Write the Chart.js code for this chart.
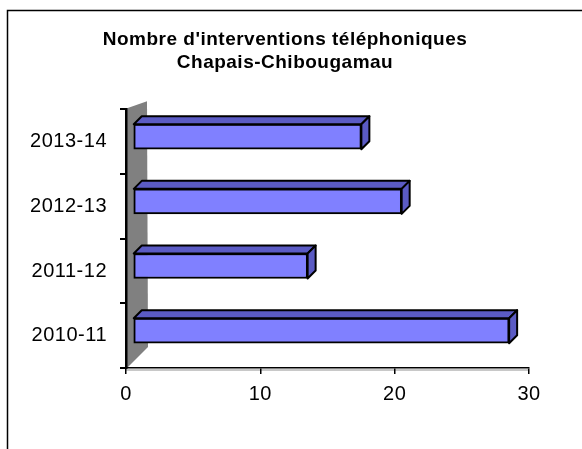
<!DOCTYPE html>
<html>
<head>
<meta charset="utf-8">
<script src="https://cdn.jsdelivr.net/npm/chart.js@4.4.1/dist/chart.umd.min.js"></script>
<style>
    html, body { margin: 0; padding: 0; background: #fff; }
</style>
</head>
<body>
<canvas id="interventions" width="582" height="449"></canvas>
<script>
var saisons = ["2013-14", "2012-13", "2011-12", "2010-11"];
var interventions = [17, 20, 13, 28];
var ticksX = [0, 10, 20, 30];
var titre = ["Nombre d'interventions téléphoniques", "Chapais-Chibougamau"];

var depth = 8;      // profondeur des barres 3D
var shift = [7, -5]; // decalage de la face avant

var decor = {
    id: 'decor',
    beforeLayout: function (chart) { chart.ctx.letterSpacing = '0.5px'; },
    afterLayout: function (chart) {
        // recentrer le titre comme dans Excel
        chart.titleBlock.left = 41;
        chart.titleBlock.right = 529;
    },
    beforeDraw: function (chart) {
        var ctx = chart.ctx;
        var a = chart.chartArea;
        ctx.letterSpacing = '0.5px';
        // cadre exterieur
        ctx.save();
        ctx.strokeStyle = '#000';
        ctx.lineWidth = 1.5;
        ctx.strokeRect(7.5, 10.5, 700, 600);
        // mur gris a gauche
        ctx.fillStyle = '#808080';
        ctx.beginPath();
        ctx.moveTo(a.left + 1, a.top - 1);
        ctx.lineTo(a.left + 21, a.top - 8);
        ctx.lineTo(a.left + 22, a.bottom - 21);
        ctx.lineTo(a.left + 1, a.bottom);
        ctx.closePath();
        ctx.fill();
        // sol clair
        ctx.strokeStyle = '#c8c8c8';
        ctx.lineWidth = 2;
        ctx.beginPath();
        ctx.moveTo(a.left, a.bottom + 2);
        ctx.lineTo(a.right, a.bottom + 2);
        ctx.stroke();
        ctx.restore();
    }
};

var bars3d = {
    id: 'bars3d',
    beforeDatasetsDraw: function (chart) {
        chart.ctx.save();
        chart.ctx.translate(shift[0], shift[1]);
    },
    afterDatasetsDraw: function (chart) {
        var ctx = chart.ctx;
        ctx.restore();
        var meta = chart.getDatasetMeta(0);
        ctx.save();
        ctx.fillStyle = '#5b5bc4';
        ctx.strokeStyle = '#000';
        ctx.lineWidth = 2;
        ctx.lineJoin = 'round';
        meta.data.forEach(function (bar) {
            var x0 = bar.base + shift[0];
            var x1 = bar.x + shift[0];
            var yt = bar.y - bar.height / 2 + shift[1];
            var yb = bar.y + bar.height / 2 + shift[1];
            // face du dessus
            ctx.beginPath();
            ctx.moveTo(x0, yt);
            ctx.lineTo(x0 + depth, yt - depth);
            ctx.lineTo(x1 + depth, yt - depth);
            ctx.lineTo(x1, yt);
            ctx.closePath();
            ctx.fill();
            ctx.stroke();
            // face de droite
            ctx.beginPath();
            ctx.moveTo(x1, yt);
            ctx.lineTo(x1 + depth, yt - depth);
            ctx.lineTo(x1 + depth, yb - depth);
            ctx.lineTo(x1, yb);
            ctx.closePath();
            ctx.fill();
            ctx.stroke();
        });
        ctx.restore();
    }
};

var labelFont = { family: "'Liberation Sans', Arial, sans-serif", size: 20 };

var chart = new Chart(document.getElementById('interventions'), {
    type: 'bar',
    data: {
        labels: saisons,
        datasets: [{
            data: interventions,
            backgroundColor: '#8080ff',
            borderColor: '#000',
            borderWidth: 2,
            borderSkipped: false,
            barThickness: 25
        }]
    },
    options: {
        indexAxis: 'y',
        responsive: false,
        animation: false,
        devicePixelRatio: 1,
        layout: { padding: { left: 0, right: 53, top: 0, bottom: 0 } },
        plugins: {
            legend: { display: false },
            tooltip: { enabled: false },
            title: {
                display: true,
                text: titre,
                color: '#000',
                font: { family: "'Liberation Sans', Arial, sans-serif", size: 19, weight: 'bold', lineHeight: 1.22 },
                padding: { top: 28, bottom: 35 }
            }
        },
        scales: {
            x: {
                min: 0,
                max: 30,
                afterBuildTicks: function (scale) {
                    scale.ticks = ticksX.map(function (v) { return { value: v }; });
                },
                afterFit: function (scale) { scale.height = 81; },
                grid: { drawOnChartArea: false, drawTicks: true, tickLength: 6, color: '#000', lineWidth: 1.5 },
                border: { color: '#000', width: 1.5 },
                ticks: { color: '#000', font: labelFont, padding: 8, maxRotation: 0 }
            },
            y: {
                afterFit: function (scale) { scale.width = 126; },
                grid: { drawOnChartArea: false, drawTicks: true, tickLength: 6, color: '#000', lineWidth: 2, offset: true },
                border: { color: '#000', width: 2.5 },
                ticks: { color: '#000', font: labelFont, padding: 13 }
            }
        }
    },
    plugins: [decor, bars3d]
});
</script>
</body>
</html>
